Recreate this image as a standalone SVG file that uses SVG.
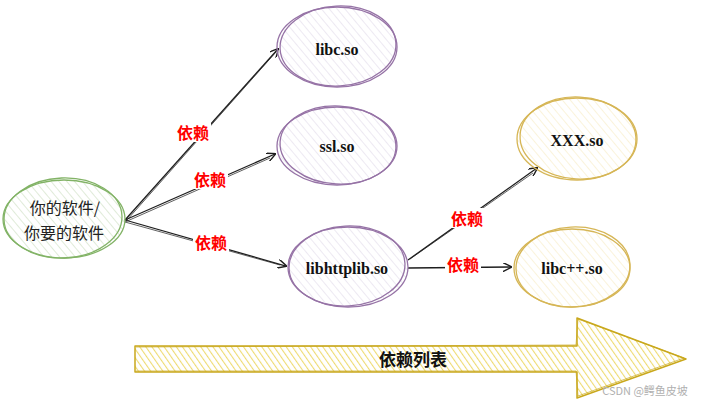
<svg xmlns="http://www.w3.org/2000/svg" width="706" height="403" viewBox="0 0 706 403">
<defs>
<pattern id="hG" patternUnits="userSpaceOnUse" width="6" height="6" patternTransform="rotate(-40)"><line x1="0" y1="0" x2="0" y2="6" stroke="#d3e3c8" stroke-width="1.4"/></pattern>
<pattern id="hP" patternUnits="userSpaceOnUse" width="6" height="6" patternTransform="rotate(-40)"><line x1="0" y1="0" x2="0" y2="6" stroke="#e6dfec" stroke-width="1.4"/></pattern>
<pattern id="hY" patternUnits="userSpaceOnUse" width="6" height="6" patternTransform="rotate(-40)"><line x1="0" y1="0" x2="0" y2="6" stroke="#f8eecb" stroke-width="1.4"/></pattern>
<pattern id="hA" patternUnits="userSpaceOnUse" width="5" height="5" patternTransform="rotate(-35)"><line x1="0" y1="0" x2="0" y2="5" stroke="#eedb72" stroke-width="2.2"/></pattern>
<marker id="ah" viewBox="0 0 10 10" refX="9" refY="5" markerWidth="9" markerHeight="9" markerUnits="userSpaceOnUse" orient="auto"><path d="M0,0 L10,5 L0,10" fill="none" stroke="#1e1e1e" stroke-width="1.6"/></marker>
</defs>
<style>
.green{fill:url(#hG);stroke:#82b366;stroke-width:1.3}
.purple{fill:url(#hP);stroke:#9673a6;stroke-width:1.3}
.yellow{fill:url(#hY);stroke:#d6b656;stroke-width:1.3}
.ol{fill:none}
.lib{font-family:"Liberation Serif",serif;font-weight:bold;font-size:16px;fill:#111;text-anchor:middle;dominant-baseline:central}
.cn{font-family:"Noto Sans CJK SC",sans-serif;font-size:16px;fill:#222;text-anchor:middle;dominant-baseline:central}
.dep{font-family:"Noto Sans CJK SC",sans-serif;font-weight:bold;font-size:16px;fill:#ff0000;text-anchor:middle;dominant-baseline:central}
.conn{fill:none;stroke:#1e1e1e;stroke-width:1.3}
.conn2{fill:none;stroke:#1e1e1e;stroke-width:0.7}
.lb{fill:#fff}
</style>
<g id="connectors">
<path class="conn" d="M125,220 L278,49" marker-end="url(#ah)"/>
<path class="conn2" d="M127,220 L276,52"/>
<path class="conn" d="M125,220 L275,154" marker-end="url(#ah)"/>
<path class="conn2" d="M125,222 L270,158"/>
<path class="conn" d="M125,220 L286,266" marker-end="url(#ah)"/>
<path class="conn2" d="M125,222 L280,265"/>
<path class="conn" d="M408,260 L537,168" marker-end="url(#ah)"/>
<path class="conn2" d="M410,259 L533,173"/>
<path class="conn" d="M408,268 L511,267" marker-end="url(#ah)"/>
<rect class="lb" x="175" y="122" width="36" height="20"/>
<text class="dep" x="193" y="132">依赖</text>
<rect class="lb" x="192" y="169" width="36" height="20"/>
<text class="dep" x="210" y="179">依赖</text>
<rect class="lb" x="193" y="232" width="36" height="20"/>
<text class="dep" x="211" y="242">依赖</text>
<rect class="lb" x="449" y="208" width="36" height="20"/>
<text class="dep" x="467" y="218">依赖</text>
<rect class="lb" x="445" y="254" width="36" height="20"/>
<text class="dep" x="463" y="264">依赖</text>
</g>
<g id="node-app">
<ellipse class="green" cx="64" cy="219" rx="61" ry="39"/>
<ellipse class="green ol" cx="63" cy="218" rx="59" ry="40" transform="rotate(-2 63 218)"/>
<text class="cn" x="65" y="207">你的软件/</text>
<text class="cn" x="64" y="232">你要的软件</text>
</g>
<g id="node-libc">
<ellipse class="purple" cx="337" cy="47" rx="60" ry="40"/>
<ellipse class="purple ol" cx="338" cy="46" rx="58" ry="40" transform="rotate(-3 338 46)"/>
<text class="lib" x="337" y="49">libc.so</text>
</g>
<g id="node-ssl">
<ellipse class="purple" cx="337" cy="146" rx="60" ry="39"/>
<ellipse class="purple ol" cx="338" cy="145" rx="58" ry="39" transform="rotate(3 338 145)"/>
<text class="lib" x="337" y="146">ssl.so</text>
</g>
<g id="node-libhttplib">
<ellipse class="purple" cx="348" cy="267" rx="60" ry="40"/>
<ellipse class="purple ol" cx="347" cy="266" rx="58" ry="40" transform="rotate(-3 347 266)"/>
<text class="lib" x="347" y="268">libhttplib.so</text>
</g>
<g id="node-xxx">
<ellipse class="yellow" cx="577" cy="139" rx="60" ry="41"/>
<ellipse class="yellow ol" cx="578" cy="138" rx="58" ry="41" transform="rotate(3 578 138)"/>
<text class="lib" x="577" y="140">XXX.so</text>
</g>
<g id="node-libcpp">
<ellipse class="yellow" cx="572" cy="268" rx="58" ry="39"/>
<ellipse class="yellow ol" cx="573" cy="267" rx="57" ry="40" transform="rotate(-3 573 267)"/>
<text class="lib" x="572" y="268">libc++.so</text>
</g>
<g id="list-arrow">
<path d="M135,346 L577,346 L577,318 L686,359 L577,398 L577,372 L135,372 Z" fill="url(#hA)" stroke="#c9a81c" stroke-width="1.5" stroke-linejoin="round"/>
<path d="M136,347 L576,345 L578,319 L684,358 L578,396 L576,371 L136,371" fill="none" stroke="#c9a81c" stroke-width="0.7"/>
<text x="413" y="358" font-family="'Noto Sans CJK SC',sans-serif" font-weight="bold" font-size="17" fill="#111" text-anchor="middle" dominant-baseline="central">依赖列表</text>
</g>
<text x="645" y="390" font-family="'Noto Sans CJK SC',sans-serif" font-size="11" fill="#b0b0b0" text-anchor="middle" dominant-baseline="central">CSDN @鳄鱼皮坡</text>
</svg>
